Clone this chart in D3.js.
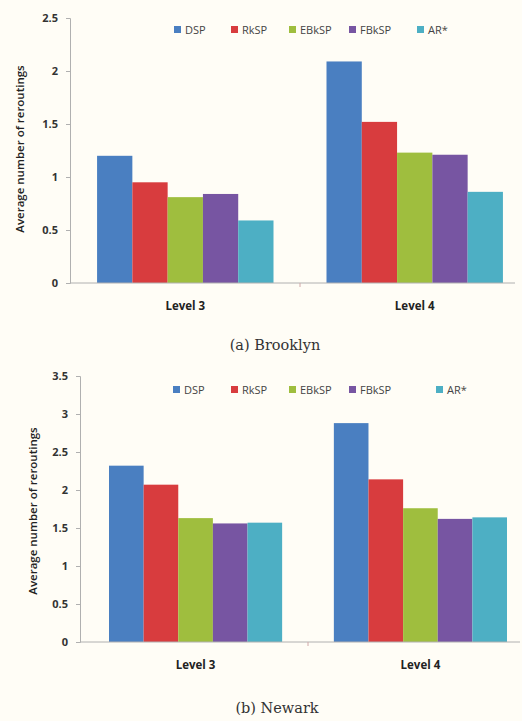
<!DOCTYPE html>
<html>
<head>
<meta charset="utf-8">
<script src="https://cdn.jsdelivr.net/npm/d3@7"></script>
<style>
  body { margin: 0; background: #fffdf6; }
  svg { display: block; }
</style>
</head>
<body>
<script>
var width = 522,
    height = 721;

var series = ["DSP", "RkSP", "EBkSP", "FBkSP", "AR*"];
var levels = ["Level 3", "Level 4"];
var colors = ["#4a7fc1", "#d83c3e", "#9fbe3e", "#7755a2", "#4dafc4"];

// average number of reroutings, one row per level
var brooklyn = [
  [1.20, 0.95, 0.81, 0.84, 0.59],
  [2.09, 1.52, 1.23, 1.21, 0.86]
];
var newark = [
  [2.32, 2.07, 1.63, 1.56, 1.57],
  [2.88, 2.14, 1.76, 1.62, 1.64]
];

var brooklynTicks = [0, 0.5, 1, 1.5, 2, 2.5];
var newarkTicks = [0, 0.5, 1, 1.5, 2, 2.5, 3, 3.5];

var svg = d3.select("body")
  .append("svg")
  .attr("width", width)
  .attr("height", height);

svg.append("rect")
  .attr("width", width)
  .attr("height", height)
  .attr("fill", "#fffdf6");

var sans = "'Open Sans', 'DejaVu Sans', sans-serif";

function drawPanel(values, ticks, cfg) {
  var g = svg.append("g");

  var yScale = d3.scaleLinear()
    .domain([0, d3.max(ticks)])
    .range([cfg.y0, cfg.yTop]);

  var xScale = d3.scaleBand()
    .domain(levels)
    .range([cfg.x0, cfg.x1])
    .paddingInner(cfg.padIn)
    .paddingOuter(cfg.padOut);

  var sScale = d3.scaleBand()
    .domain(series)
    .range([0, xScale.bandwidth()]);

  // bars
  var groups = g.selectAll("g.level")
    .data(values)
    .enter()
    .append("g")
    .attr("class", "level")
    .attr("transform", function(d, i) {
      return "translate(" + xScale(levels[i]) + ",0)";
    });

  groups.selectAll("rect")
    .data(function(d) { return d; })
    .enter()
    .append("rect")
    .attr("x", function(d, i) { return sScale(series[i]); })
    .attr("y", function(d) { return yScale(d); })
    .attr("width", sScale.bandwidth())
    .attr("height", function(d) { return cfg.y0 - yScale(d); })
    .attr("fill", function(d, i) { return colors[i]; });

  // y axis
  var yAxis = d3.axisLeft(yScale)
    .tickValues(ticks)
    .tickSize(4)
    .tickPadding(8)
    .tickFormat(function(d) { return d; });

  var ya = g.append("g")
    .attr("transform", "translate(" + cfg.x0 + ",0)")
    .call(yAxis);
  ya.select(".domain").attr("stroke", "#b0b0b0");
  ya.selectAll(".tick line").attr("stroke", "#b0b0b0");
  ya.selectAll(".tick text")
    .attr("fill", "#333")
    .style("font-family", sans)
    .style("font-size", "11px")
    .style("font-weight", "bold");

  // x axis line
  g.append("line")
    .attr("x1", cfg.x0)
    .attr("x2", cfg.axisEnd)
    .attr("y1", cfg.y0)
    .attr("y2", cfg.y0)
    .attr("stroke", "#b0b0b0");

  // small tick between the groups
  var mid = (xScale(levels[0]) + xScale.bandwidth() + xScale(levels[1])) / 2;
  g.append("line")
    .attr("x1", mid)
    .attr("x2", mid)
    .attr("y1", cfg.y0)
    .attr("y2", cfg.y0 + 4)
    .attr("stroke", "#d0a8a8");

  // category labels
  g.selectAll("text.cat")
    .data(levels)
    .enter()
    .append("text")
    .attr("class", "cat")
    .attr("x", function(d) { return xScale(d) + xScale.bandwidth() / 2; })
    .attr("y", cfg.y0 + 27)
    .attr("text-anchor", "middle")
    .attr("fill", "#222")
    .style("font-family", sans)
    .style("font-size", "11.5px")
    .style("font-weight", "bold")
    .text(function(d) { return d; });

  // y label
  g.append("text")
    .attr("transform", "translate(" + cfg.yLabelX + "," + cfg.yLabelY + ") rotate(-90)")
    .attr("text-anchor", "middle")
    .attr("fill", "#222")
    .style("font-family", sans)
    .style("font-size", "11.5px")
    .style("font-weight", "600")
    .text("Average number of reroutings");

  // legend
  var leg = g.selectAll("g.leg")
    .data(series)
    .enter()
    .append("g")
    .attr("class", "leg")
    .attr("transform", function(d, i) {
      return "translate(" + cfg.legendX[i] + "," + cfg.legendY + ")";
    });
  leg.append("rect")
    .attr("x", 0)
    .attr("y", -4)
    .attr("width", 7)
    .attr("height", 7)
    .attr("fill", function(d, i) { return colors[i]; });
  leg.append("text")
    .attr("x", 11)
    .attr("y", 4)
    .attr("fill", "#444")
    .style("font-family", sans)
    .style("font-size", "11px")
    .text(function(d) { return d; });

  // caption
  g.append("text")
    .attr("x", cfg.captionX)
    .attr("y", cfg.captionY)
    .attr("text-anchor", "middle")
    .attr("fill", "#333")
    .style("font-family", "'DejaVu Serif', 'Liberation Serif', serif")
    .style("font-size", "14.5px")
    .text(cfg.caption);
}

drawPanel(brooklyn, brooklynTicks, {
  x0: 70, x1: 530, axisEnd: 515,
  padIn: 0.231, padOut: 0.118,
  y0: 283, yTop: 18,
  yLabelX: 24, yLabelY: 149,
  legendY: 30,
  legendX: [174, 231, 289, 349, 417],
  caption: "(a) Brooklyn",
  captionX: 275, captionY: 350
});

drawPanel(newark, newarkTicks, {
  x0: 80, x1: 536, axisEnd: 520,
  padIn: 0.23, padOut: 0.129,
  y0: 642, yTop: 376,
  yLabelX: 37, yLabelY: 511,
  legendY: 390,
  legendX: [173, 231, 289, 349, 436],
  caption: "(b) Newark",
  captionX: 277, captionY: 713
});
</script>
</body>
</html>
